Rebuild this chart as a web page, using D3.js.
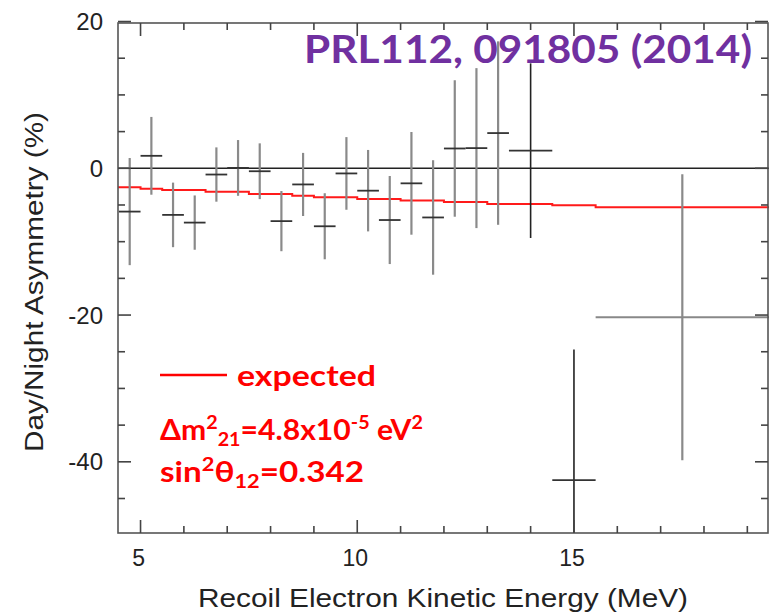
<!DOCTYPE html>
<html>
<head>
<meta charset="utf-8">
<script src="https://cdn.jsdelivr.net/npm/d3@7"></script>
<style>
  html, body { margin: 0; padding: 0; background: #fff; }
  svg { display: block; }
</style>
</head>
<body>
<svg id="chart" width="770" height="614"></svg>
<script>
// ---- data ----
const binLo = [4.5, 5.0, 5.5, 6.0, 6.5, 7.0, 7.5, 8.0, 8.5, 9.0, 9.5, 10.0, 10.5, 11.0, 11.5, 12.0, 12.5, 13.0, 13.5, 14.5, 15.5];
const binHi = [5.0, 5.5, 6.0, 6.5, 7.0, 7.5, 8.0, 8.5, 9.0, 9.5, 10.0, 10.5, 11.0, 11.5, 12.0, 12.5, 13.0, 13.5, 14.5, 15.5, 19.5];
const asymmetry = [-5.9, 1.7, -6.35, -7.4, -0.85, 0.05, -0.4, -7.2, -2.2, -7.9, -0.7, -3.05, -7.05, -2.05, -6.7, 2.7, 2.75, 4.8, 2.4, -42.5, -20.3];
const asymErr = [7.3, 5.3, 4.4, 3.7, 3.7, 3.8, 3.8, 4.1, 4.3, 4.5, 4.95, 5.55, 6.0, 7.0, 7.8, 9.3, 10.9, 12.5, 11.9, 17.8, 19.5];
const expEdges = [4.48, 5.0, 5.5, 6.5, 7.5, 8.5, 9.0, 10.0, 11.0, 12.0, 13.0, 14.5, 15.5, 19.5];
const expValues = [-2.6, -2.8, -2.95, -3.2, -3.5, -3.75, -3.95, -4.2, -4.4, -4.6, -4.85, -5.05, -5.3];
const xMajorTicks = [5, 10, 15];
const xMinorTicks = [5, 6, 7, 8, 9, 10, 11, 12, 13, 14, 15, 16, 17, 18, 19];
const yMajorTicks = [20, 0, -20, -40];
const yMinorTicks = [15, 10, 5, -5, -10, -15, -25, -30, -35, -45];
const xTitle = "Recoil Electron Kinetic Energy (MeV)";
const yTitle = "Day/Night Asymmetry (%)";
const refTitle = "PRL112, 091805 (2014)";

// ---- scales ----
const x = d3.scaleLinear().domain([4.48, 19.5]).range([118, 769]);
const y = d3.scaleLinear().domain([-49.7, 19.8]).range([533, 23]);

const svg = d3.select("#chart");
const [x0, x1] = x.range();
const [yb, yt] = y.range();

svg.append("defs").append("clipPath").attr("id", "plotclip")
  .append("rect").attr("x", x0).attr("y", yt).attr("width", x1 - x0).attr("height", yb - yt);

const plot = svg.append("g").attr("clip-path", "url(#plotclip)");

// zero line
plot.append("line")
  .attr("x1", x0).attr("x2", x1).attr("y1", y(0)).attr("y2", y(0))
  .attr("stroke", "#222").attr("stroke-width", 1.6);

// expected (red step)
const expPts = expEdges.map((e, i) => [e, expValues[Math.min(i, expValues.length - 1)]]);
plot.append("path")
  .datum(expPts)
  .attr("fill", "none")
  .attr("stroke", "#ff1a1a")
  .attr("stroke-width", 2)
  .attr("d", d3.line().x(d => x(d[0])).y(d => y(d[1])).curve(d3.curveStepAfter));

// data points with error bars
const pts = binLo.map((lo, i) => ({lo, hi: binHi[i], v: asymmetry[i], e: asymErr[i]}));
const g = plot.selectAll("g.pt").data(pts).join("g").attr("class", "pt");
g.append("line")
  .attr("x1", d => x((d.lo + d.hi) / 2)).attr("x2", d => x((d.lo + d.hi) / 2))
  .attr("y1", d => y(d.v + d.e)).attr("y2", d => y(d.v - d.e))
  .attr("stroke", d => (d.hi - d.lo) === 1 ? "#222" : "#8a8a8a")
  .attr("stroke-width", d => (d.hi - d.lo) === 1 ? 1.6 : 2.2);
g.append("line")
  .attr("x1", d => x(d.lo)).attr("x2", d => x(d.hi))
  .attr("y1", d => y(d.v)).attr("y2", d => y(d.v))
  .attr("stroke", d => (d.hi - d.lo) > 2 ? "#888" : "#333")
  .attr("stroke-width", 1.8);

// frame
svg.append("rect")
  .attr("x", x0).attr("y", yt).attr("width", x1 - x0 - 1).attr("height", yb - yt)
  .attr("fill", "none").attr("stroke", "#555").attr("stroke-width", 1.6);

// ticks
const tk = svg.append("g").attr("stroke", "#444").attr("stroke-width", 1.6);
xMinorTicks.forEach(t => {
  const L = xMajorTicks.includes(t) ? 13 : 7;
  tk.append("line").attr("x1", x(t)).attr("x2", x(t)).attr("y1", yb).attr("y2", yb - L);
  tk.append("line").attr("x1", x(t)).attr("x2", x(t)).attr("y1", yt).attr("y2", yt + L);
});
yMajorTicks.concat(yMinorTicks).forEach(t => {
  const L = yMajorTicks.includes(t) ? 13 : 7;
  tk.append("line").attr("x1", x0).attr("x2", x0 + L).attr("y1", y(t)).attr("y2", y(t));
  tk.append("line").attr("x1", x1 - 1).attr("x2", x1 - 1 - L).attr("y1", y(t)).attr("y2", y(t));
});

// tick labels
const tf = "'Liberation Sans', Arial, Helvetica, sans-serif";
svg.append("g").selectAll("text").data(yMajorTicks).join("text")
  .attr("x", 103).attr("y", d => y(d)).attr("dy", "0.36em")
  .attr("text-anchor", "end").attr("font-family", tf).attr("font-size", 24)
  .attr("fill", "#222").text(d => d);
svg.append("g").selectAll("text").data(xMajorTicks).join("text")
  .attr("x", d => x(d) - 2).attr("y", 566)
  .attr("text-anchor", "middle").attr("font-family", tf).attr("font-size", 23)
  .attr("fill", "#222").text(d => d);

// axis titles
svg.append("text")
  .attr("x", 443).attr("y", 607)
  .attr("text-anchor", "middle").attr("font-family", tf).attr("font-size", 25)
  .attr("textLength", 490).attr("lengthAdjust", "spacingAndGlyphs")
  .attr("fill", "#222").text(xTitle);
svg.append("text")
  .attr("transform", "translate(43,282) rotate(-90)")
  .attr("text-anchor", "middle").attr("font-family", tf).attr("font-size", 25)
  .attr("textLength", 340).attr("lengthAdjust", "spacingAndGlyphs")
  .attr("fill", "#222").text(yTitle);

// reference title
const bf = "Lato, 'Open Sans', sans-serif";
svg.append("text")
  .attr("x", 304).attr("y", 63)
  .attr("font-family", bf).attr("font-weight", "bold").attr("font-size", 39)
  .attr("textLength", 448).attr("lengthAdjust", "spacingAndGlyphs")
  .attr("fill", "#7030a0").text(refTitle);

// legend
const red = "#ff0000";
svg.append("line").attr("x1", 160).attr("x2", 227).attr("y1", 375).attr("y2", 375)
  .attr("stroke", red).attr("stroke-width", 2.5);
svg.append("text").attr("x", 237).attr("y", 386)
  .attr("font-family", bf).attr("font-weight", "bold").attr("font-size", 29)
  .attr("textLength", 139).attr("lengthAdjust", "spacingAndGlyphs")
  .attr("fill", red).text("expected");

const l2 = svg.append("text").attr("x", 160).attr("y", 440)
  .attr("font-family", bf).attr("font-weight", "bold").attr("font-size", 29)
  .attr("textLength", 263).attr("lengthAdjust", "spacingAndGlyphs").attr("fill", red);
l2.append("tspan").text("Δm");
l2.append("tspan").attr("font-size", 19).attr("dy", -11).text("2");
l2.append("tspan").attr("font-size", 19).attr("dy", 17).text("21");
l2.append("tspan").attr("dy", -6).text("=4.8x10");
l2.append("tspan").attr("font-size", 19).attr("dy", -11).text("-5");
l2.append("tspan").attr("dy", 11).text(" eV");
l2.append("tspan").attr("font-size", 19).attr("dy", -11).text("2");

const l3 = svg.append("text").attr("x", 160).attr("y", 482)
  .attr("font-family", bf).attr("font-weight", "bold").attr("font-size", 29)
  .attr("textLength", 204).attr("lengthAdjust", "spacingAndGlyphs").attr("fill", red);
l3.append("tspan").text("sin");
l3.append("tspan").attr("font-size", 19).attr("dy", -11).text("2");
l3.append("tspan").attr("dy", 11).text("θ");
l3.append("tspan").attr("font-size", 19).attr("dy", 6).text("12");
l3.append("tspan").attr("dy", -6).text("=0.342");
</script>
</body>
</html>
